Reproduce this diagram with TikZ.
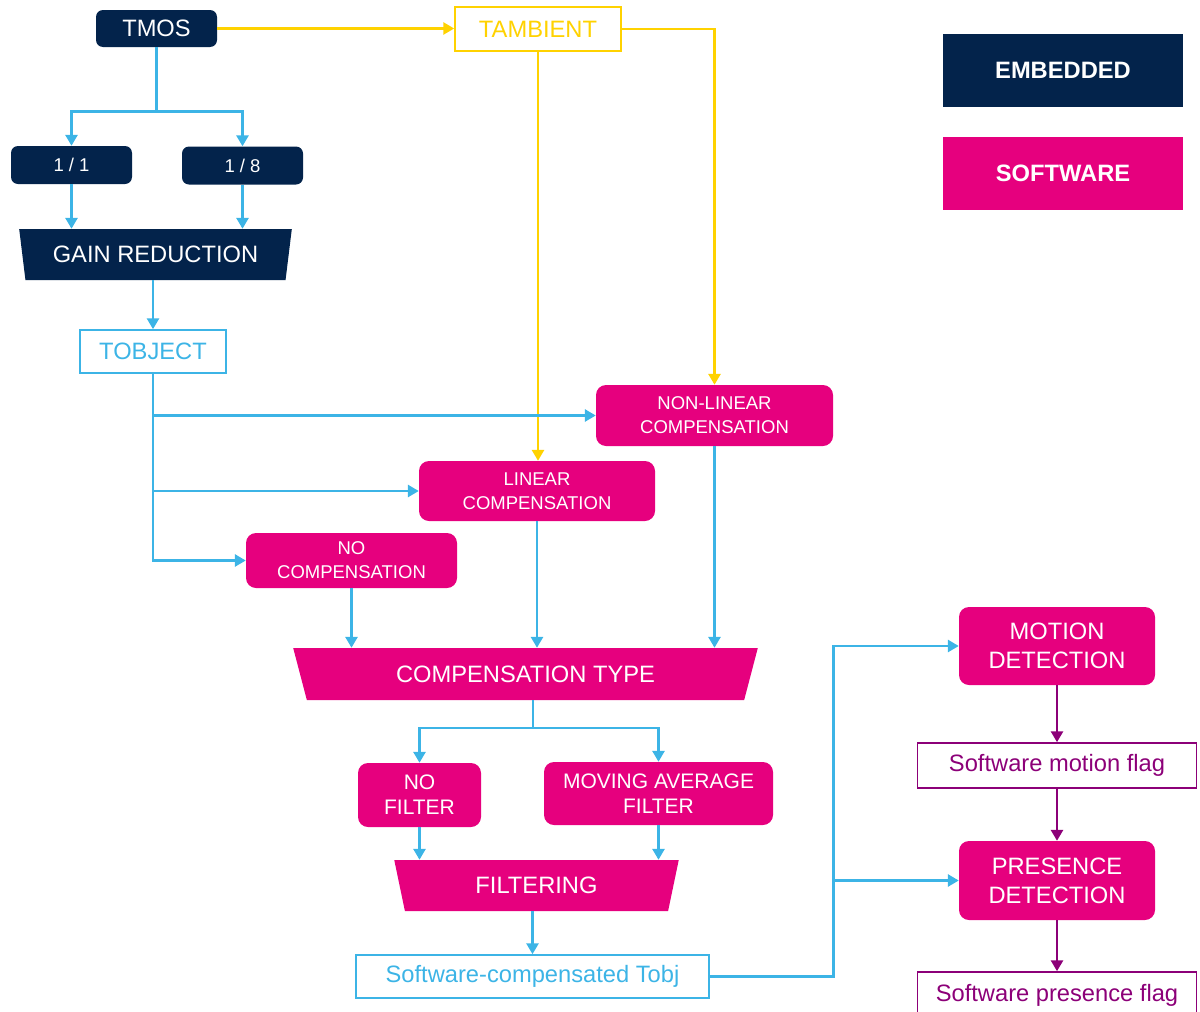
\documentclass[tikz,border=0pt]{standalone}
\usepackage{fontspec}
\setmainfont{Liberation Sans}
\usetikzlibrary{arrows.meta,shapes.geometric}
\definecolor{stnavy}{HTML}{03234B}
\definecolor{stpink}{HTML}{E6007E}
\definecolor{stblue}{HTML}{3CB4E6}
\definecolor{styellow}{HTML}{FFD200}
\definecolor{stpurple}{HTML}{8C0078}
\tikzset{
  big/.style={font=\fontsize{23.7}{29}\selectfont},
  mid/.style={font=\fontsize{21}{25}\selectfont},
  small/.style={font=\fontsize{18.5}{24}\selectfont},
  embox/.style={fill=stnavy, text=white, rounded corners=7pt, inner sep=0pt},
  swbox/.style={fill=stpink, text=white, rounded corners=10pt, inner sep=0pt, align=center},
  outbox/.style={draw=#1, text=#1, line width=1.5pt, inner sep=0pt},
  legend/.style={fill=#1, text=white, inner sep=0pt, minimum width=240pt, minimum height=73pt,
    font=\bfseries\fontsize{23.7}{28}\selectfont},
  funnel/.style={fill=#1, text=white, trapezium, shape border rotate=180,
    trapezium stretches=true, inner sep=0pt},
  flow/.style={draw=#1, line width=2.9pt, -{Triangle[length=11pt,width=12pt]}},
  flow/.default=stblue,
  wire/.style={draw=#1, line width=2.9pt},
  wire/.default=stblue,
}
\begin{document}
\begin{tikzpicture}[x=1pt,y=-1pt]
\useasboundingbox (0,0) rectangle (1200,1012);
\node[embox, big, minimum width=121pt, minimum height=37pt] (tmos) at (156.5,28.5) {TMOS};
\node[outbox=styellow, big, minimum width=166pt, minimum height=44pt] (tamb) at (538,29) {TAMBIENT};
\node[legend=stnavy] (emb) at (1063,70.5) {EMBEDDED};
\node[legend=stpink] (sw) at (1063,173.5) {SOFTWARE};
\node[embox, small, minimum width=121pt, minimum height=38pt] (div1) at (71.5,165) {1 / 1};
\node[embox, small, minimum width=121pt, minimum height=38pt] (div8) at (242.5,165.5) {1 / 8};
\node[funnel=stnavy, big, minimum width=273pt, minimum height=51pt,
  trapezium left angle=73.6, trapezium right angle=73.6] (gain) at (155.5,254.5) {GAIN REDUCTION};
\node[outbox=stblue, big, minimum width=146pt, minimum height=43pt] (tobj) at (153,351.5) {TOBJECT};
\node[swbox, small, minimum width=237pt, minimum height=61pt] (nonlin) at (714.5,415.5) {NON-LINEAR\\COMPENSATION};
\node[swbox, small, minimum width=236pt, minimum height=60pt] (lin) at (537,491) {LINEAR\\COMPENSATION};
\node[swbox, small, minimum width=211pt, minimum height=55pt] (nocomp) at (351.5,560.5) {NO\\COMPENSATION};
\node[funnel=stpink, big, minimum width=465pt, minimum height=52pt,
  trapezium left angle=64.3, trapezium right angle=64.3] (ctype) at (525.5,674) {COMPENSATION TYPE};
\node[swbox, mid, minimum width=123pt, minimum height=64pt] (nofilt) at (419.5,795) {NO\\FILTER};
\node[swbox, mid, minimum width=229pt, minimum height=63pt] (mavg) at (658.5,793.5) {MOVING AVERAGE\\FILTER};
\node[funnel=stpink, big, minimum width=285pt, minimum height=51pt,
  trapezium left angle=73.6, trapezium right angle=73.6] (filt) at (536.5,885.5) {FILTERING};
\node[outbox=stblue, big, minimum width=353pt, minimum height=43pt] (swtobj) at (532.5,976.5) {Software-compensated Tobj};
\node[swbox, big, minimum width=196pt, minimum height=78pt] (motion) at (1057,646) {MOTION\\DETECTION};
\node[outbox=stpurple, big, minimum width=279pt, minimum height=45pt] (mflag) at (1057,765.5) {Software motion flag};
\node[swbox, big, minimum width=196pt, minimum height=79pt] (presence) at (1057,880.5) {PRESENCE\\DETECTION};
\node[outbox=stpurple, big, minimum width=279pt, minimum height=46pt] (pflag) at (1057,995) {Software presence flag};
\coordinate (csplit) at (533,728);
\path (presence.west) ++(-125,0) coordinate (dsplit);
\draw[flow=styellow] (tmos.east) -- (tmos.east -| tamb.west);
\draw[flow=styellow] (tamb.east) -| (nonlin.north);
\draw[flow=styellow] (tamb.south) -- (tamb.south |- lin.north);
\draw[flow] (tmos.south) -- ++(0,64) -| (div1.north);
\draw[flow] (tmos.south) -- ++(0,64) -| (div8.north);
\draw[flow] (div1.south) -- (div1.south |- gain.north);
\draw[flow] (div8.south) -- (div8.south |- gain.north);
\draw[flow] (tobj.north |- gain.south) -- (tobj.north);
\draw[flow] (tobj.south) |- (nocomp.west);
\draw[flow] (tobj.south |- nonlin.west) -- (nonlin.west);
\draw[flow] (tobj.south |- lin.west) -- (lin.west);
\draw[flow] (nocomp.south) -- (nocomp.south |- ctype.north);
\draw[flow] (lin.south) -- (lin.south |- ctype.north);
\draw[flow] (nonlin.south) -- (nonlin.south |- ctype.north);
\draw[wire] (csplit |- ctype.south) -- (csplit);
\draw[flow] (csplit) -| (nofilt.north);
\draw[flow] (csplit) -| (mavg.north);
\draw[flow] (nofilt.south) -- (nofilt.south |- filt.north);
\draw[flow] (mavg.south) -- (mavg.south |- filt.north);
\draw[flow] (swtobj.north |- filt.south) -- (swtobj.north);
\draw[flow] (swtobj.east) -| (dsplit) |- (motion.west);
\draw[flow] (dsplit) -- (presence.west);
\draw[flow=stpurple] (motion.south) -- (mflag.north);
\draw[flow=stpurple] (mflag.south) -- (presence.north);
\draw[flow=stpurple] (presence.south) -- (pflag.north);
\end{tikzpicture}
\end{document}
